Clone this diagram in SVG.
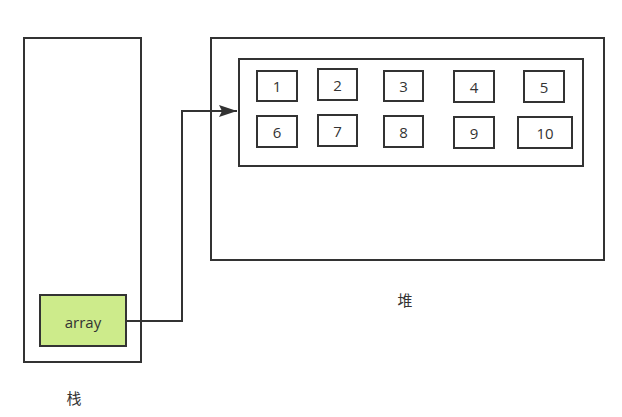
<svg xmlns="http://www.w3.org/2000/svg" width="622" height="417" viewBox="0 0 622 417">
<style>
.b{fill:#fff;stroke:#333;stroke-width:2}
.t{font-family:"Open Sans","Noto Sans CJK SC",sans-serif;font-size:15px;fill:#333;text-anchor:middle;dominant-baseline:central}
</style>
<defs>
<marker id="ah" markerWidth="18" markerHeight="12" refX="18" refY="6" orient="auto" markerUnits="userSpaceOnUse">
<path d="M0,0 L18,6 L0,12 L3,6 Z" fill="#333"/>
</marker>
</defs>
<rect width="622" height="417" fill="#fff"/>
<g id="stack"><rect class="b" x="24" y="38" width="117" height="324"/></g>
<g id="heap"><rect class="b" x="211" y="38" width="393" height="222"/></g>
<g id="arrayobj"><rect class="b" x="239" y="59" width="344" height="107"/></g>
<g id="e1"><rect class="b" x="257" y="71" width="40" height="30"/><text class="t" x="277" y="86">1</text></g>
<g id="e2"><rect class="b" x="318" y="69" width="39" height="31"/><text class="t" x="337.5" y="85">2</text></g>
<g id="e3"><rect class="b" x="384" y="71" width="39" height="30"/><text class="t" x="403.5" y="86">3</text></g>
<g id="e4"><rect class="b" x="454" y="71" width="40" height="31"/><text class="t" x="474" y="86.5">4</text></g>
<g id="e5"><rect class="b" x="524" y="71" width="40" height="31"/><text class="t" x="544" y="86.5">5</text></g>
<g id="e6"><rect class="b" x="257" y="116" width="40" height="31"/><text class="t" x="277" y="131.5">6</text></g>
<g id="e7"><rect class="b" x="318" y="115" width="39" height="31"/><text class="t" x="337.5" y="130.5">7</text></g>
<g id="e8"><rect class="b" x="384" y="116" width="39" height="31"/><text class="t" x="403.5" y="131.5">8</text></g>
<g id="e9"><rect class="b" x="454" y="117" width="40" height="31"/><text class="t" x="474" y="132.5">9</text></g>
<g id="e10"><rect class="b" x="518" y="117" width="54" height="31"/><text class="t" x="545" y="132.5">10</text></g>
<g id="array"><rect x="40" y="295" width="86" height="51" fill="#cdeb8b" stroke="#333" stroke-width="2"/><text class="t" x="83" y="322">array</text></g>
<g id="connectors"><path d="M126,321 H182 V111 H237" fill="none" stroke="#333" stroke-width="2" marker-end="url(#ah)"/></g>
<text class="t" x="405" y="300">堆</text>
<text class="t" x="74" y="398">栈</text>
</svg>
